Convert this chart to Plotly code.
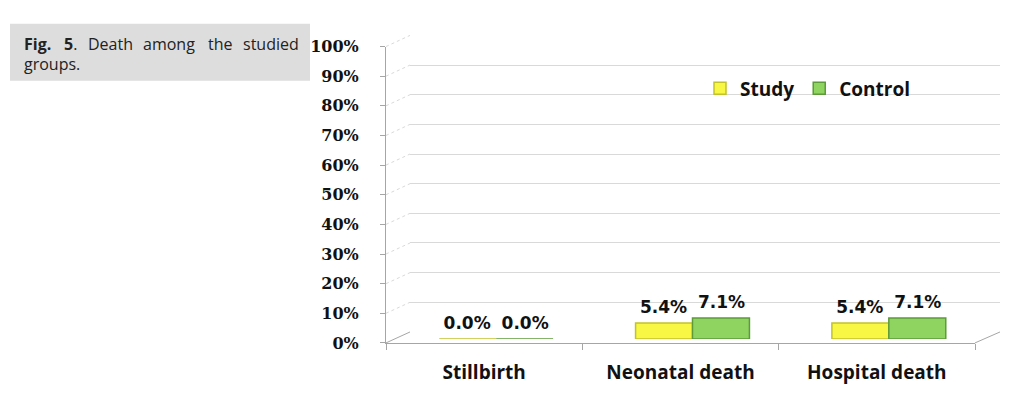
import plotly.graph_objects as go

categories = ["Stillbirth", "Neonatal death", "Hospital death"]
study = [0.0, 0.054, 0.054]
control = [0.0, 0.071, 0.071]
study_labels = ["0.0%", "5.4%", "5.4%"]
control_labels = ["0.0%", "7.1%", "7.1%"]
y_ticks = [i / 10 for i in range(11)]
caption_words = ["<b>Fig.</b>", "<b>5</b>.", "Death", "among", "the", "studied"]
caption_line2 = "groups."

W, H = 1024, 404
OFF = 8  # page body margin
def fx(p):
    return (p - OFF) / W
def fy(p):
    return 1 - (p - OFF) / H

# positions measured on the reference picture (screen pixels)
front_x = [fx(386), fx(975)]
front_y = [fy(350), fy(39)]
back_x = [fx(410), fx(1000)]
back_y = [fy(338.5), fy(27.3)]
bar_x = [fx(398), fx(987)]
bar_y = [fy(346), fy(35)]
word_x = [23, 63, 87, 142, 207, 242]

YELLOW = "#f7f744"
YELLOW_D = "#c2c22a"
GREEN = "#8fd460"
GREEN_D = "#5c9a3a"
GRID = "#d9d9d9"
AXIS = "#a6a6a6"
LABEL_FONT = dict(family="DejaVu Sans", size=17, color="#111", weight="bold")

fig = go.Figure()

fig.add_trace(go.Scatter(x=categories, y=[0, 0, 0], mode="markers", marker=dict(opacity=0),
                         showlegend=False, hoverinfo="skip", xaxis="x", yaxis="y"))
fig.add_trace(go.Scatter(x=categories, y=[0, 0, 0], mode="markers", marker=dict(opacity=0),
                         showlegend=False, hoverinfo="skip", xaxis="x2", yaxis="y2"))

fig.add_trace(go.Bar(name="Study", x=categories, y=study,
                     marker=dict(color=YELLOW, line=dict(color=YELLOW_D, width=1.5)),
                     xaxis="x3", yaxis="y3"))
fig.add_trace(go.Bar(name="Control", x=categories, y=control,
                     marker=dict(color=GREEN, line=dict(color=GREEN_D, width=1.5)),
                     xaxis="x3", yaxis="y3"))

fig.add_trace(go.Scatter(x=categories, y=study, text=study_labels, mode="markers+text",
                         textposition="top center", marker=dict(size=8, opacity=0),
                         textfont=LABEL_FONT, showlegend=False, hoverinfo="skip",
                         xaxis="x4", yaxis="y3", cliponaxis=False))
fig.add_trace(go.Scatter(x=categories, y=control, text=control_labels, mode="markers+text",
                         textposition="top center", marker=dict(size=8, opacity=0),
                         textfont=LABEL_FONT, showlegend=False, hoverinfo="skip",
                         xaxis="x5", yaxis="y3", cliponaxis=False))

shapes = []
shapes.append(dict(type="rect", xref="paper", yref="paper", x0=fx(10), x1=fx(310), y0=fy(75), y1=fy(15),
                   fillcolor="#dddddd", line=dict(width=0), layer="below"))
for v in y_ticks:
    y0 = front_y[0] + v * (front_y[1] - front_y[0])
    y1 = back_y[0] + v * (back_y[1] - back_y[0])
    shapes.append(dict(type="line", xref="paper", yref="paper", x0=front_x[0], x1=back_x[0], y0=y0, y1=y1,
                       line=dict(color=GRID if v > 0 else AXIS, width=1, dash="dot" if v > 0 else "solid"),
                       layer="below"))
shapes.append(dict(type="line", xref="paper", yref="paper", x0=front_x[1], x1=back_x[1],
                   y0=front_y[0], y1=back_y[0], line=dict(color=AXIS, width=1), layer="below"))

cap_font = dict(family="Open Sans", size=16, color="#222")
annotations = []
for wx, w in zip(word_x, caption_words):
    annotations.append(dict(xref="paper", yref="paper", x=fx(wx), y=fy(36), xanchor="left", yanchor="middle",
                            showarrow=False, text=w, font=cap_font, xshift=-1))
annotations.append(dict(xref="paper", yref="paper", x=fx(23), y=fy(57), xanchor="left", yanchor="middle",
                        showarrow=False, text=caption_line2, font=cap_font, xshift=-1))

fig.update_layout(
    width=W, height=H,
    margin=dict(l=0, r=0, t=0, b=0),
    paper_bgcolor="white", plot_bgcolor="rgba(0,0,0,0)",
    barmode="group", bargap=0.42, bargroupgap=0,
    shapes=shapes, annotations=annotations,
    legend=dict(orientation="h", x=fx(700), y=fy(83), xanchor="left", yanchor="middle",
                font=dict(family="Open Sans", size=19, color="#111", weight="bold"),
                bgcolor="rgba(0,0,0,0)", itemclick=False, traceorder="normal"),
    xaxis=dict(domain=front_x, type="category", range=[-0.5, 2.5], showline=True, linecolor=AXIS,
               ticks="outside", tickson="boundaries", ticklen=6, tickcolor=AXIS, showgrid=False,
               tickfont=dict(family="Open Sans", size=19, color="#111", weight="bold"),
               ticklabelstandoff=12, anchor="y", fixedrange=True),
    yaxis=dict(domain=front_y, range=[0, 1], tickvals=y_ticks, tickformat=".0%", showline=True,
               linecolor=AXIS, ticks="outside", ticklen=5, tickcolor=AXIS, showgrid=False, zeroline=False,
               tickfont=dict(family="DejaVu Serif", size=16, color="#111", weight="bold"),
               ticklabelstandoff=18, anchor="x", fixedrange=True),
    xaxis2=dict(domain=back_x, type="category", range=[-0.5, 2.5], visible=False, anchor="y2"),
    yaxis2=dict(domain=back_y, range=[0, 1], tickvals=y_ticks, showgrid=True, gridcolor=GRID, gridwidth=1,
                showticklabels=False, ticks="", showline=False, zeroline=False, anchor="x2"),
    xaxis3=dict(domain=bar_x, type="category", range=[-0.5, 2.5], visible=False, anchor="y3"),
    yaxis3=dict(domain=bar_y, range=[0, 1], visible=False, anchor="x3"),
    xaxis4=dict(domain=[bar_x[0] - 29 / W, bar_x[1] - 29 / W], type="category", range=[-0.5, 2.5],
                visible=False, anchor="y3"),
    xaxis5=dict(domain=[bar_x[0] + 29 / W, bar_x[1] + 29 / W], type="category", range=[-0.5, 2.5],
                visible=False, anchor="y3"),
)

fig.write_html("out.html")
